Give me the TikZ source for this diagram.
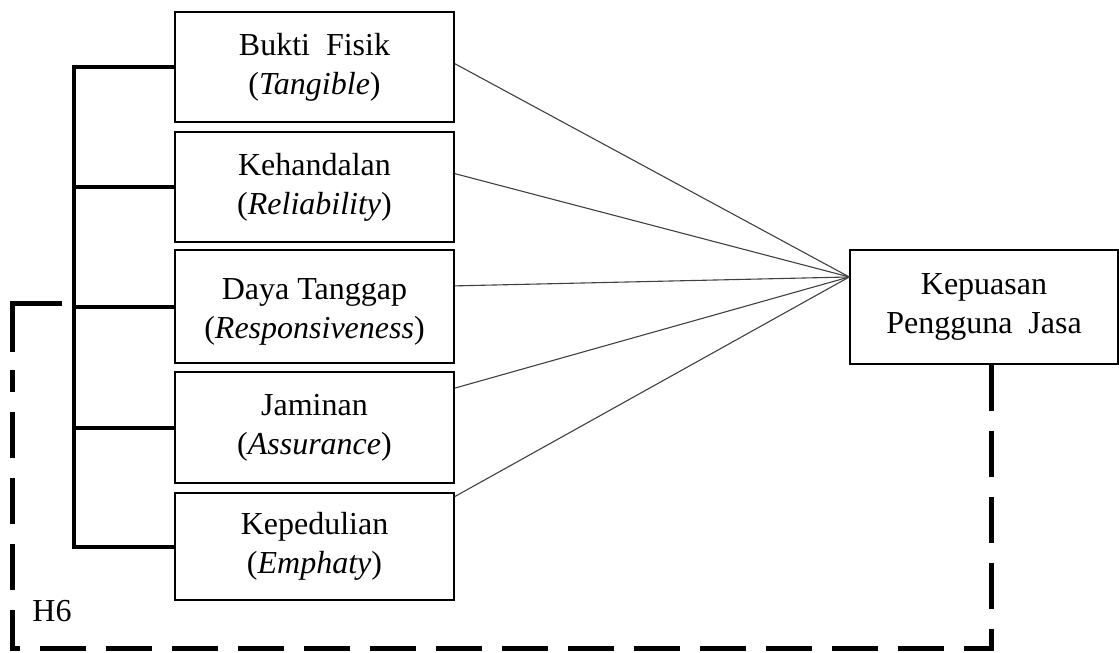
\documentclass[tikz,border=0pt]{standalone}
\usepackage{fontspec}
\setmainfont{Liberation Serif}
\usetikzlibrary{calc}

\begin{document}
\begin{tikzpicture}[x=0.5pt,y=-0.5pt,font=\fontsize{16}{19.5}\selectfont,
   box/.style n args={2}{draw,line width=0.75pt,rectangle,inner sep=0pt,align=center,minimum width=#1*0.5pt,minimum height=#2*0.5pt},
   link/.style={line width=0.55pt,black!75},
   brace/.style={line width=2pt,line cap=rect},
   hyp/.style={line width=2.5pt,dash pattern=on 23pt off 10pt}]
\useasboundingbox (0,0) rectangle (1119,653);
% dimensi kualitas layanan
\node[box={279}{110}] (b1) at (314.5,67) {Bukti~~Fisik\\(\textit{Tangible})};
\node[box={279}{110}] (b2) at (314.5,187) {Kehandalan\\(\textit{Reliability})};
\node[box={279}{113}] (b3) at (314.5,306.5) {\\[-4pt]Daya Tanggap\\(\textit{Responsiveness})};
\node[box={279}{111}] (b4) at (314.5,427.5) {Jaminan\\(\textit{Assurance})};
\node[box={279}{107}] (b5) at (314.5,546.5) {Kepedulian\\(\textit{Emphaty})};
\node[box={268}{114}] (kp) at (984,307) {Kepuasan\\Pengguna~~Jasa};
\coordinate (hub) at ($(kp.north west)!0.24!(kp.south west)$);
\foreach \b/\f in {b1/0.47,b2/0.38,b3/0.32,b4/0.15,b5/0.04} {
   \draw[link] ($(\b.north east)!\f!(\b.south east)$) -- (hub);
}
% garis simultan
\coordinate (spine) at (74,0);
\foreach \b in {b1,b2,b3,b4,b5} {
   \draw[brace] (\b.west) -- (\b.west -| spine);
}
\draw[brace] (b1.west -| spine) -- (b5.west -| spine);
% H6
\coordinate (kpfoot) at ($(kp.south west)!0.526!(kp.south east)$);
\coordinate (h6end) at (62,303);
\coordinate (h6bend) at (12,352);
\coordinate (h6gap) at (12,370);
\draw[hyp] (kpfoot) -- (kpfoot |- 0,648) -- (12,648) -- (h6gap);
\draw[hyp,solid] (h6bend) -- (12,303) -- (h6end);
\node (h6) at (52,611) {H6};
\end{tikzpicture}
\end{document}
